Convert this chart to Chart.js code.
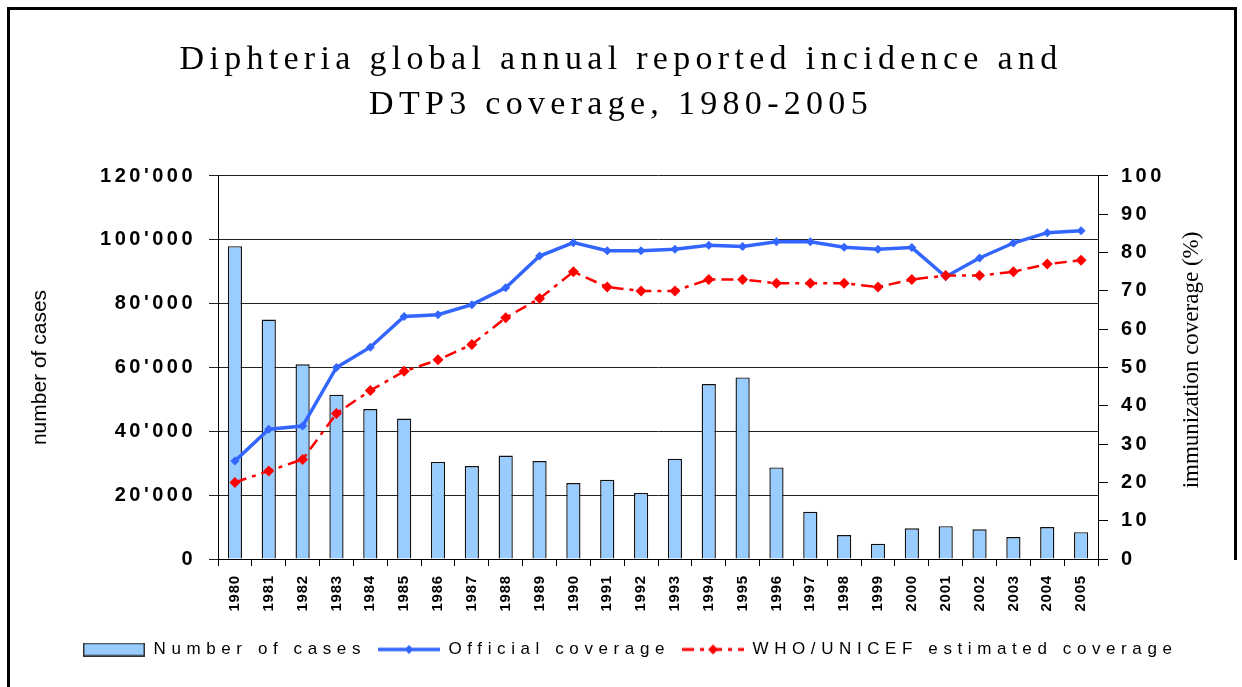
<!DOCTYPE html>
<html>
<head>
<meta charset="utf-8">
<script src="https://cdn.jsdelivr.net/npm/chart.js@4.4.1/dist/chart.umd.min.js"></script>
<style>
  html, body { margin: 0; padding: 0; background: #fff; }
  #wrap { width: 1242px; height: 687px; position: relative; }
  canvas { display: block; }
</style>
</head>
<body>
<div id="wrap"><canvas id="c" width="1242" height="687"></canvas></div>
<script>
// ---------- data ----------
const years = ['1980','1981','1982','1983','1984','1985','1986','1987','1988','1989','1990','1991','1992','1993','1994','1995','1996','1997','1998','1999','2000','2001','2002','2003','2004','2005'];
const cases = [98000, 75000, 61000, 51500, 47000, 44000, 30400, 29100, 32400, 30700, 23800, 24800, 20700, 31400, 54800, 56900, 28700, 14800, 7500, 4800, 9600, 10300, 9300, 6900, 10000, 8400];
const officialCoverage = [25.6, 33.9, 34.7, 50.0, 55.3, 63.3, 63.8, 66.4, 70.8, 79.1, 82.6, 80.5, 80.5, 80.9, 81.9, 81.6, 82.8, 82.8, 81.4, 80.9, 81.3, 73.7, 78.6, 82.5, 85.2, 85.7];
const whoCoverage = [20, 23, 26, 38, 44, 49, 52, 56, 63, 68, 75, 71, 70, 70, 73, 73, 72, 72, 72, 71, 73, 74, 74, 75, 77, 78];
const titleLines = ['Diphteria global annual reported incidence and', 'DTP3 coverage, 1980-2005'];
const seriesNames = ['Number of cases', 'Official coverage', 'WHO/UNICEF estimated coverage'];
const leftAxisTitle = 'number of cases';
const rightAxisTitle = 'immunization coverage (%)';

// ---------- styles ----------
const BAR_FILL = '#99CCFF';
const BLUE = '#3366FF';
const RED = '#FF0000';
const RED_DASH = [12, 6, 4, 6];

function fmtThousands(v) {
  const s = String(Math.round(v));
  return s.replace(/\B(?=(\d{3})+(?!\d))/g, "'");
}

function diamond(ctx, x, y, r, color) {
  ctx.beginPath();
  ctx.moveTo(x, y - r); ctx.lineTo(x + r, y); ctx.lineTo(x, y + r); ctx.lineTo(x - r, y);
  ctx.closePath(); ctx.fillStyle = color; ctx.fill();
}
function makeIcon(kind) {
  const c = document.createElement('canvas');
  c.width = 62; c.height = 14;
  const g = c.getContext('2d');
  if (kind === 'bar') {
    g.fillStyle = BAR_FILL; g.fillRect(1, 1, 60, 12);
    g.strokeStyle = '#333'; g.lineWidth = 1.5; g.strokeRect(0.75, 0.75, 60.5, 12.5);
  } else if (kind === 'blue') {
    g.strokeStyle = BLUE; g.lineWidth = 3.5; g.beginPath(); g.moveTo(0, 7); g.lineTo(62, 7); g.stroke();
    diamond(g, 31, 7, 4.5, BLUE);
  } else {
    g.strokeStyle = RED; g.lineWidth = 3; g.setLineDash(RED_DASH);
    g.beginPath(); g.moveTo(0, 7); g.lineTo(62, 7); g.stroke();
    diamond(g, 31, 7, 5, RED);
  }
  return c;
}
const icons = [makeIcon('bar'), makeIcon('blue'), makeIcon('red')];

// ---------- plugins ----------
function wrap(chart, obj, fn, spacing, dxFn) {
  if (!obj || obj['__p_' + fn]) return;
  const orig = obj[fn];
  obj[fn] = function (...args) {
    const ctx = chart.ctx;
    ctx.save();
    ctx.letterSpacing = spacing;
    if (dxFn) ctx.translate(dxFn.call(this), 0);
    const r = orig.apply(this, args);
    ctx.restore();
    return r;
  };
  obj['__p_' + fn] = true;
}
const LEGEND_HEIGHT = 58;
const LEGEND_FIRST_X = 83;
const spacingPlugin = {
  id: 'spacing',
  beforeLayout(chart) {
    if (chart.legend && !chart.legend.__p_fit) {
      const lg = chart.legend;
      const origFit = lg.fit;
      lg.fit = function (...a) {
        const ctx = chart.ctx;
        ctx.save(); ctx.letterSpacing = '5.6px';
        const r = origFit.apply(this, a);
        ctx.restore();
        this.height = LEGEND_HEIGHT;
        return r;
      };
      lg.__p_fit = true;
    }
    wrap(chart, chart.titleBlock, 'draw', '5.3px');
    wrap(chart, chart.legend, 'draw', '5.6px', function () {
      const pad = this.options.labels.padding;
      const start = (this.left + pad + this.right - this.lineWidths[0]) / 2;
      return LEGEND_FIRST_X - start;
    });
  },
  beforeDraw(chart) {
    const s = chart.scales;
    wrap(chart, s.x, 'drawLabels', '0.8px');
    wrap(chart, s.y, 'drawLabels', '3.5px');
    wrap(chart, s.y1, 'drawLabels', '3.5px');
    const ctx = chart.ctx;
    ctx.save();
    ctx.fillStyle = '#fff';
    ctx.fillRect(0, 0, chart.width, chart.height);
    ctx.restore();
  },
  afterDraw(chart) {
    const ctx = chart.ctx;
    // right axis title, reading bottom-to-top
    ctx.save();
    ctx.translate(1192, 360);
    ctx.rotate(-Math.PI / 2);
    ctx.font = '23px "Liberation Serif", "Times New Roman", serif';
    ctx.fillStyle = '#000';
    ctx.textAlign = 'center';
    ctx.textBaseline = 'middle';
    ctx.fillText(rightAxisTitle, 0, 0);
    ctx.restore();
    // frame
    ctx.save();
    ctx.strokeStyle = '#000';
    ctx.lineWidth = 3;
    ctx.beginPath();
    ctx.moveTo(8.5, 687); ctx.lineTo(8.5, 8.5); ctx.lineTo(1235.5, 8.5); ctx.lineTo(1235.5, 560);
    ctx.stroke();
    ctx.restore();
  }
};

// ---------- chart ----------
const ctx = document.getElementById('c').getContext('2d');
new Chart(ctx, {
  type: 'bar',
  data: {
    labels: years,
    datasets: [
      {
        type: 'bar',
        label: seriesNames[0],
        data: cases,
        yAxisID: 'y',
        backgroundColor: BAR_FILL,
        borderColor: '#111',
        borderWidth: 1.4,
        barPercentage: 0.42,
        categoryPercentage: 1.0,
        order: 3
      },
      {
        type: 'line',
        label: seriesNames[1],
        data: officialCoverage,
        yAxisID: 'y1',
        borderColor: BLUE,
        backgroundColor: BLUE,
        borderWidth: 3.5,
        pointStyle: 'rectRot',
        pointRadius: 4.5,
        pointBackgroundColor: BLUE,
        pointBorderColor: BLUE,
        pointBorderWidth: 0,
        tension: 0,
        fill: false,
        order: 2
      },
      {
        type: 'line',
        label: seriesNames[2],
        data: whoCoverage,
        yAxisID: 'y1',
        borderColor: RED,
        backgroundColor: RED,
        borderWidth: 2.5,
        borderDash: RED_DASH,
        pointStyle: 'rectRot',
        pointRadius: 5.5,
        pointBackgroundColor: RED,
        pointBorderColor: RED,
        pointBorderWidth: 0,
        tension: 0,
        fill: false,
        order: 1
      }
    ]
  },
  options: {
    responsive: false,
    animation: false,
    devicePixelRatio: 1,
    layout: { padding: { top: 8, left: 8, right: 8, bottom: 0 } },
    plugins: {
      tooltip: { enabled: false },
      title: {
        display: true,
        text: titleLines,
        color: '#000',
        font: { family: '"Liberation Serif", "Times New Roman", serif', size: 34, weight: 'normal', lineHeight: 1.3235 },
        padding: { top: 29.5, bottom: 48.5 }
      },
      legend: {
        display: true,
        position: 'bottom',
        labels: {
          usePointStyle: true,
          pointStyleWidth: 62,
          boxHeight: 14,
          padding: 12,
          color: '#000',
          font: { family: '"Liberation Sans", Arial, sans-serif', size: 17 },
          sort: (a, b) => a.datasetIndex - b.datasetIndex,
          generateLabels(chart) {
            const items = Chart.defaults.plugins.legend.labels.generateLabels(chart);
            items.forEach(it => { it.pointStyle = icons[it.datasetIndex]; it.lineWidth = 0; it.rotation = 0; });
            return items;
          }
        }
      }
    },
    scales: {
      x: {
        type: 'category',
        offset: true,
        grid: { display: true, drawOnChartArea: false, drawTicks: true, tickLength: 7, color: '#000', offset: true },
        border: { display: true, color: '#000', width: 1 },
        ticks: {
          color: '#000',
          font: { family: '"Liberation Sans", Arial, sans-serif', size: 15, weight: 'bold' },
          minRotation: 90, maxRotation: 90, autoSkip: false, padding: 9
        },
        afterFit(s) { s.height = 70; }
      },
      y: {
        position: 'left',
        min: 0, max: 120000,
        grid: { color: '#222', lineWidth: 1, tickLength: 9, drawTicks: true },
        border: { display: true, color: '#000', width: 1 },
        ticks: {
          stepSize: 20000,
          color: '#000',
          padding: 13,
          font: { family: '"Liberation Sans", Arial, sans-serif', size: 20, weight: 'bold' },
          callback: v => fmtThousands(v)
        },
        title: {
          display: true,
          text: leftAxisTitle,
          color: '#000',
          font: { family: '"Liberation Sans", Arial, sans-serif', size: 21, weight: 'normal', lineHeight: 1.2 },
          padding: { top: 19.4, bottom: 0 }
        },
        afterFit(s) { s.width = 210; }
      },
      y1: {
        position: 'right',
        min: 0, max: 100,
        grid: { drawOnChartArea: false, color: '#000', tickLength: 10, drawTicks: true },
        border: { display: true, color: '#000', width: 1 },
        ticks: {
          stepSize: 10,
          color: '#000',
          padding: 13,
          font: { family: '"Liberation Sans", Arial, sans-serif', size: 20, weight: 'bold' }
        },
        afterFit(s) { s.width = 136; }
      }
    }
  },
  plugins: [spacingPlugin]
});
</script>
</body>
</html>
